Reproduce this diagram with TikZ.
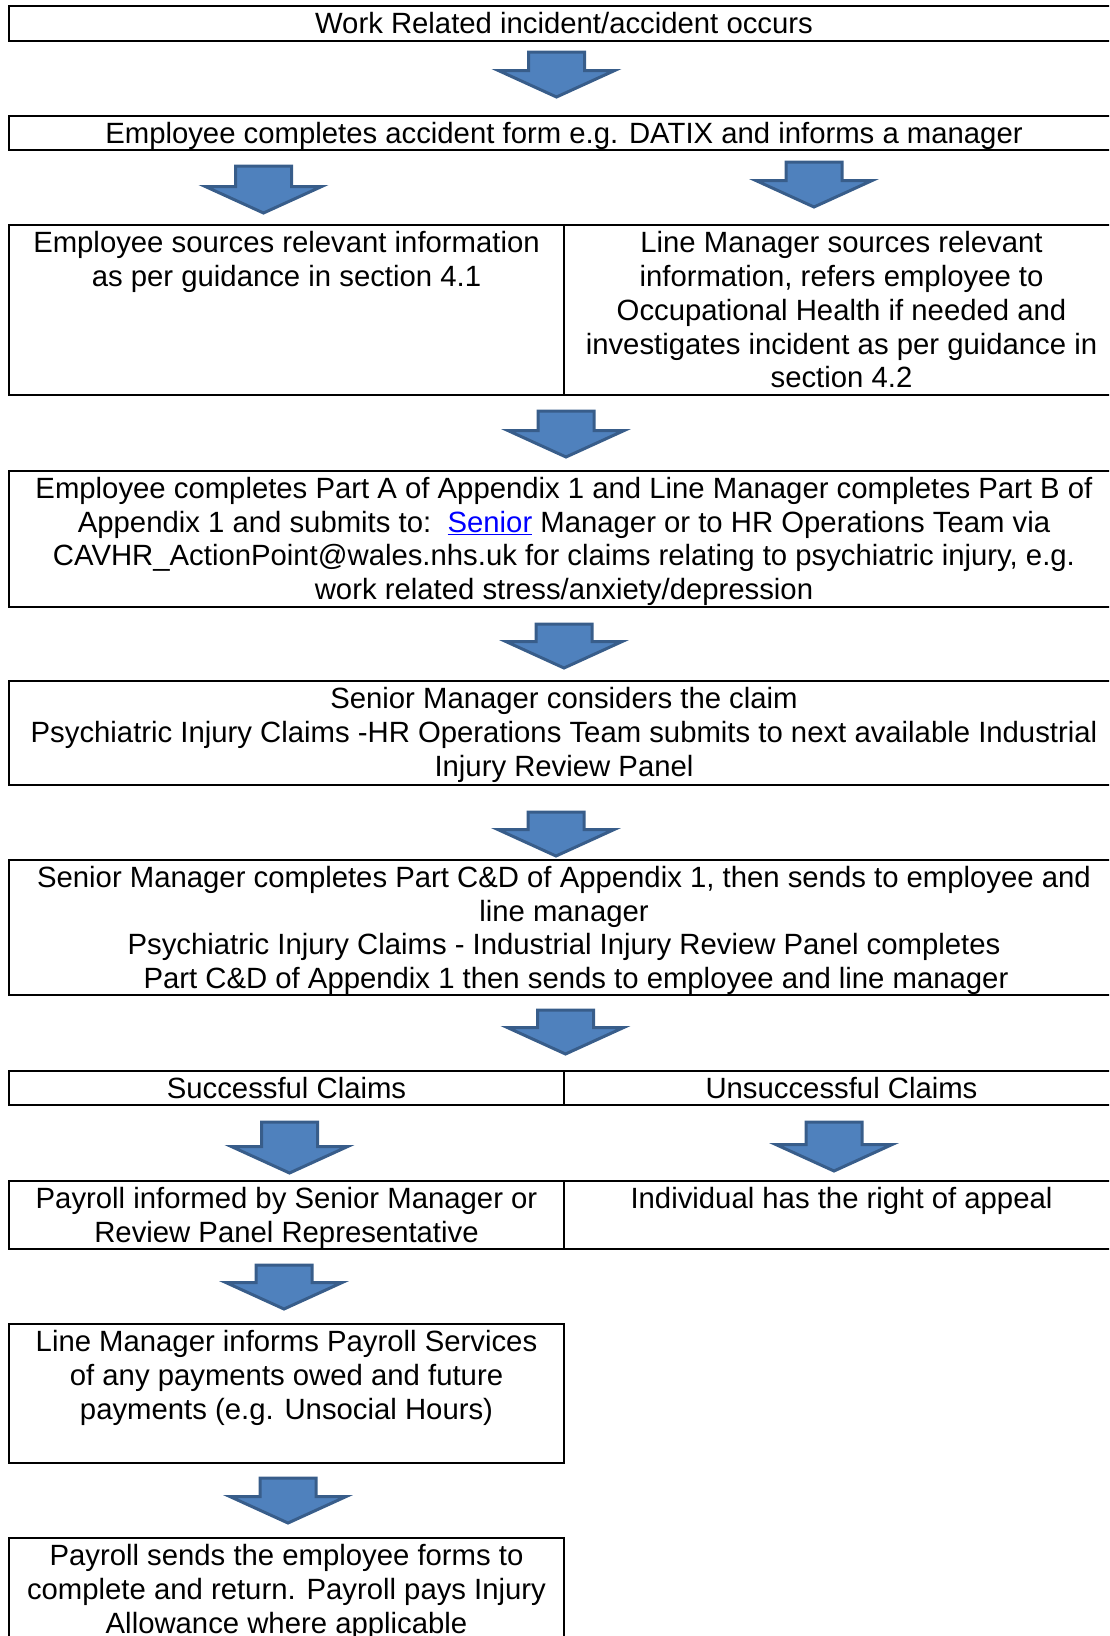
\documentclass[tikz,border=0pt]{standalone}
\usepackage{fontspec}
\setmainfont{Liberation Sans}
\usetikzlibrary{
  shapes.arrows,
  positioning
}
\definecolor{arrowfill}{RGB}{79,129,189}
\definecolor{arrowedge}{RGB}{56,93,138}
\definecolor{linkblue}{RGB}{0,0,255}
\tikzset{
  box/.style={draw, line width=2pt, anchor=north west, inner sep=0pt},
  fullbox/.style={box, minimum width=1110},
  halfbox/.style={box, minimum width=555},
  txt/.style={inner sep=0pt, align=center, font={\fontsize{29.3}{33.7}\selectfont}},
  blockarrow/.style={
    single arrow, draw=arrowedge, fill=arrowfill, line width=3pt,
    shape border rotate=270, anchor=tail,
    inner xsep=26.5pt, inner ysep=0pt,
    minimum width=113, single arrow head extend=30,
    single arrow tip angle=131
  },
}

\begin{document}
\begin{tikzpicture}[x=1pt, y=-1pt]
\useasboundingbox (0,0) rectangle (1109,1636);
\clip (0,0) rectangle (1109,1636);

% boxes, top to bottom
\node[fullbox, minimum height=35] (b1) at (8,5) {};
\node[fullbox, minimum height=34] (b2) at (8,115) {};
\node[halfbox, minimum height=170] (b3l) at (8,224) {};
\node[halfbox, minimum height=170] (b3r) at (563,224) {};
\node[fullbox, minimum height=136] (b4) at (8,469.5) {};
\node[fullbox, minimum height=103.5] (b5) at (8,680) {};
\node[fullbox, minimum height=135.5] (b6) at (8,858.5) {};
\node[halfbox, minimum height=34.5] (b7l) at (8,1069.5) {};
\node[halfbox, minimum height=34.5] (b7r) at (563,1069.5) {};
\node[halfbox, minimum height=68] (b8l) at (8,1180) {};
\node[halfbox, minimum height=68] (b8r) at (563,1180) {};
\node[halfbox, minimum height=139] (b9) at (8,1323) {};
\node[halfbox, minimum height=120] (b10) at (8,1537) {};

% texts
\node[txt, below=7.5pt of b1.north] (t1) {Work Related incident/accident occurs};
\node[txt, below=7.5pt of b2.north] (t2) {Employee completes accident form e.g. DATIX and informs a manager};
\node[txt, below=7.5pt of b3l.north] (t3l) {Employee sources relevant information\\as per guidance in section 4.1};
\node[txt, below=7.5pt of b3r.north] (t3r) {Line Manager sources relevant\\information, refers employee to\\Occupational Health if needed and\\investigates incident as per guidance in\\section 4.2};
\node[txt, below=7.5pt of b4.north] (t4) {Employee completes Part A of Appendix 1 and Line Manager completes Part B of\\Appendix 1 and submits to:\ \ \textcolor{linkblue}{\underline{Senior}} Manager or to HR Operations Team via\\CAVHR\_ActionPoint@wales.nhs.uk for claims relating to psychiatric injury, e.g.\\work related stress/anxiety/depression};
\node[txt, below=7.5pt of b5.north] (t5) {Senior Manager considers the claim\\Psychiatric Injury Claims -HR Operations Team submits to next available Industrial\\Injury Review Panel};
\node[txt, below=7.5pt of b6.north] (t6) {Senior Manager completes Part C\&D of Appendix 1, then sends to employee and\\line manager\\Psychiatric Injury Claims - Industrial Injury Review Panel completes\\\hspace*{24pt}Part C\&D of Appendix 1 then sends to employee and line manager};
\node[txt, below=7.5pt of b7l.north] (t7l) {Successful Claims};
\node[txt, below=7.5pt of b7r.north] (t7r) {Unsuccessful Claims};
\node[txt, below=7.5pt of b8l.north] (t8l) {Payroll informed by Senior Manager or\\Review Panel Representative};
\node[txt, below=7.5pt of b8r.north] (t8r) {Individual has the right of appeal};
\node[txt, below=7.5pt of b9.north] (t9) {Line Manager informs Payroll Services\\of any payments owed and future\\payments (e.g. Unsocial Hours)};
\node[txt, below=7.5pt of b10.north] (t10) {Payroll sends the employee forms to\\complete and return. Payroll pays Injury\\Allowance where applicable};

% block arrows between the boxes
\foreach \nm/\X/\Y/\L in {a1/556.5/50.5/45, a2l/263.5/164.5/47, a2r/814/160.5/45,
  a3/566/409.5/46, a4/564/622.5/44, a5/556/810.5/44, a6/565.5/1008.5/44,
  a7l/289.5/1120.5/51, a7r/834/1120.5/49, a8/284/1263.5/44, a9/288/1476.5/45}{
  \node[blockarrow, minimum height=\L] (\nm) at (\X,\Y) {};
}

\end{tikzpicture}
\end{document}
